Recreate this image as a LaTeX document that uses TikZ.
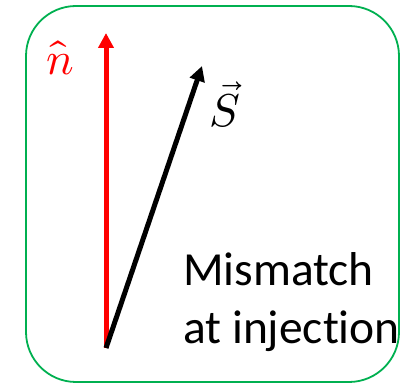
\documentclass[tikz,border=0pt]{standalone}
\usepackage{fontspec}
\usepackage{unicode-math}
\setmainfont{Carlito}[Ligatures=NoCommon]
\usetikzlibrary{arrows.meta}
\definecolor{boxgreen}{RGB}{0,176,80}
\begin{document}
\begin{tikzpicture}[x=1pt,y=1pt,
  vecarrow/.style={line width=5pt,-{Triangle[length=15pt,width=15pt]}},
  frame/.style={draw=boxgreen,line width=1.8pt,rounded corners=50pt}]
\useasboundingbox (0,0) rectangle (416,-385);
\draw[frame] (26,-6) rectangle (399,-382);
\coordinate (o) at (106,-348);
\coordinate (ntip) at (106,-33);
\coordinate (stip) at (202,-66);
\draw[vecarrow,red] (o) -- (ntip);
\draw[vecarrow,black] (o) -- (stip);
\node[red,font=\fontsize{46}{50}\selectfont] (nlab) at (60,-58) {$\hat{n}$};
\node[font=\fontsize{46}{50}\selectfont] (slab) at (225,-105) {$\vec{S}$};
\node[align=left,anchor=north west,inner sep=0pt,font=\fontsize{47.5}{58}\selectfont] (txt) at (183,-252) {Mismatch\\at injection};
\end{tikzpicture}
\end{document}
